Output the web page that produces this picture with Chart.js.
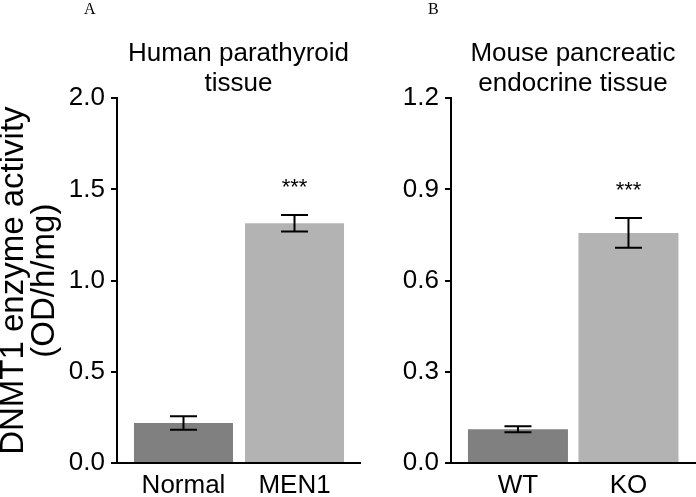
<!DOCTYPE html>
<html>
<head>
<meta charset="utf-8">
<script src="https://cdn.jsdelivr.net/npm/chart.js@4.4.0/dist/chart.umd.min.js"></script>
<style>
  body { margin: 0; background: #fff; }
  #wrap { position: relative; width: 696px; height: 497px; overflow: hidden; background: #fff; }
  .panel { position: absolute; top: 0; height: 497px; }
  #panelA { left: 0; width: 365px; }
  #panelB { left: 365px; width: 331px; }
  .tag { position: absolute; top: 1px; font-size: 16px; line-height: 16px;
         font-family: "Liberation Serif", "Times New Roman", serif; color: #000; }
</style>
</head>
<body>
<div id="wrap">
  <div class="panel" id="panelA"><canvas id="chartA"></canvas></div>
  <div class="panel" id="panelB"><canvas id="chartB"></canvas></div>
  <div class="tag" style="left:84px">A</div>
  <div class="tag" style="left:428px">B</div>
</div>
<script>
// Panel A - human parathyroid
const groupsA = ['Normal', 'MEN1'];
const meansA = [0.22, 1.315];
const errorsA = [0.037, 0.045];
const ticksA = [0, 0.5, 1.0, 1.5, 2.0];
const titleA = ['Human parathyroid', 'tissue'];

// Panel B - mouse pancreatic endocrine
const groupsB = ['WT', 'KO'];
const meansB = [0.111, 0.757];
const errorsB = [0.010, 0.049];
const ticksB = [0, 0.3, 0.6, 0.9, 1.2];
const titleB = ['Mouse pancreatic', 'endocrine tissue'];

const marks = ['', '***'];
const barColors = ['#808080', '#b3b3b3'];
const yTitle = ['DNMT1 enzyme activity', '(OD/h/mg)'];

const FONT = '"Liberation Sans", Arial, Helvetica, sans-serif';
Chart.defaults.font.family = FONT;
Chart.defaults.color = '#000';

// error bars + significance stars, drawn on top of the bars
function makeErrorPlugin(errors, stars) {
    return {
        id: 'errorBars',
        afterDatasetsDraw(chart) {
            const { ctx, scales: { x, y } } = chart;
            const points = chart.data.datasets[0].data;
            ctx.save();
            ctx.strokeStyle = '#000';
            ctx.lineWidth = 2;
            points.forEach((pt, i) => {
                const px = x.getPixelForValue(pt.x);
                const top = y.getPixelForValue(pt.y + errors[i]);
                const bot = y.getPixelForValue(pt.y - errors[i]);
                ctx.beginPath();
                ctx.moveTo(px, top); ctx.lineTo(px, bot);
                ctx.moveTo(px - 13.5, top); ctx.lineTo(px + 13.5, top);
                ctx.moveTo(px - 13.5, bot); ctx.lineTo(px + 13.5, bot);
                ctx.stroke();
                if (stars[i]) {
                    ctx.fillStyle = '#000';
                    ctx.font = '22px ' + FONT;
                    ctx.textAlign = 'center';
                    ctx.textBaseline = 'middle';
                    ctx.fillText(stars[i], px, top - 27);
                }
            });
            ctx.restore();
        }
    };
}

function makePanel(id, cfg) {
    return new Chart(document.getElementById(id), {
        type: 'bar',
        data: {
            datasets: [{
                data: cfg.means.map((v, i) => ({ x: i + 1, y: v })),
                backgroundColor: barColors,
                borderWidth: 0,
                barPercentage: cfg.barPct,
                categoryPercentage: 1
            }]
        },
        options: {
            responsive: true,
            maintainAspectRatio: false,
            animation: false,
            layout: { padding: { top: 39, left: 0, right: cfg.padRight, bottom: 0 } },
            plugins: {
                legend: { display: false },
                tooltip: { enabled: false },
                title: {
                    display: true,
                    text: cfg.title,
                    fullSize: false,
                    color: '#000',
                    font: { size: 26, weight: 'normal', lineHeight: 1.14 },
                    padding: 0
                }
            },
            scales: {
                x: {
                    type: 'linear',
                    offset: false,
                    min: cfg.xRange[0],
                    max: cfg.xRange[1],
                    afterBuildTicks: s => { s.ticks = cfg.groups.map((g, i) => ({ value: i + 1 })); },
                    afterFit: s => { s.height = 34; },
                    ticks: {
                        callback: v => cfg.groups[Math.round(v) - 1],
                        font: { size: 26 },
                        color: '#000',
                        padding: 7,
                        maxRotation: 0
                    },
                    grid: { display: false, drawTicks: false, offset: false },
                    border: { display: true, color: '#000', width: 2 }
                },
                y: {
                    min: 0,
                    max: cfg.ticks[cfg.ticks.length - 1],
                    afterBuildTicks: s => { s.ticks = cfg.ticks.map(v => ({ value: v })); },
                    afterFit: s => { s.width = cfg.yWidth; },
                    ticks: {
                        callback: v => v.toFixed(1),
                        font: { size: 26 },
                        color: '#000',
                        padding: 6
                    },
                    grid: { drawOnChartArea: false, tickLength: 6, color: '#000', lineWidth: 2 },
                    border: { display: true, color: '#000', width: 2 },
                    title: cfg.yTitle ? {
                        display: true,
                        text: cfg.yTitle,
                        color: '#000',
                        font: { size: 33, lineHeight: 0.94 },
                        padding: { top: -1.5, bottom: 0 }
                    } : { display: false }
                }
            }
        },
        plugins: [makeErrorPlugin(cfg.errors, marks)]
    });
}

makePanel('chartA', {
    groups: groupsA, means: meansA, errors: errorsA, ticks: ticksA, title: titleA,
    yTitle: yTitle, yWidth: 117, padRight: 5, xRange: [0.401, 2.59], barPct: 0.892
});

makePanel('chartB', {
    groups: groupsB, means: meansB, errors: errorsB, ticks: ticksB, title: titleB,
    yTitle: null, yWidth: 86, padRight: 1, xRange: [0.394, 2.602], barPct: 0.905
});
</script>
</body>
</html>
